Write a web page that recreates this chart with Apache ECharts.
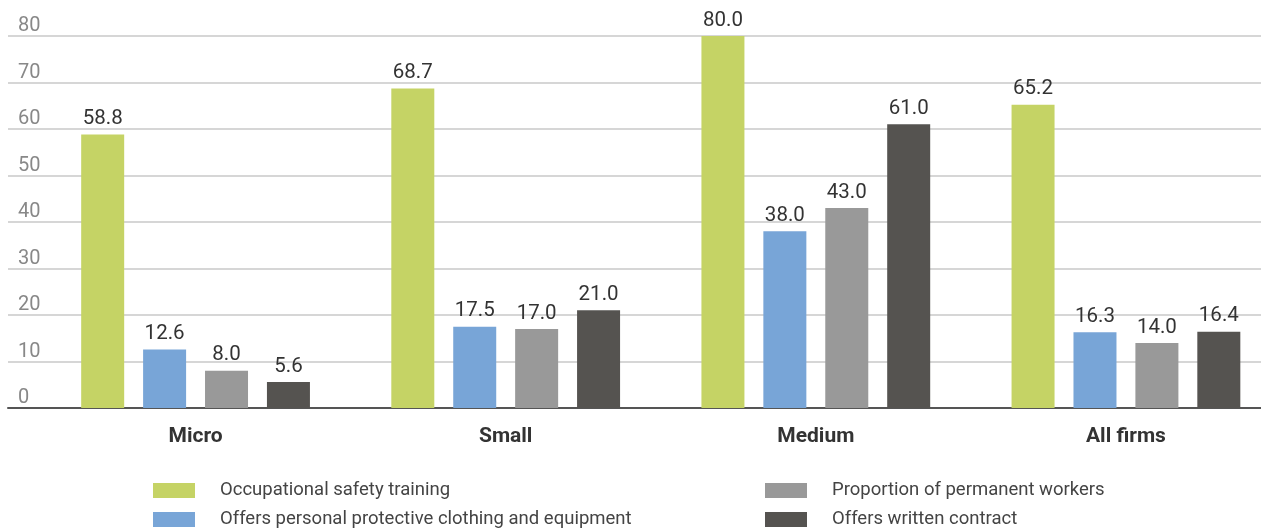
<!DOCTYPE html>
<html>
<head>
<meta charset="utf-8">
<script src="https://cdn.jsdelivr.net/npm/echarts@6/dist/echarts.min.js"></script>
<style>
  html, body { margin: 0; padding: 0; background: #fff; overflow: hidden; }
  /* a little wider than the window: the last group of bars runs past the right edge */
  #chart { width: 1281px; height: 528px; }
</style>
</head>
<body>
<div id="chart"></div>
<script>
const categories = ['Micro', 'Small', 'Medium', 'All firms'];
const seriesNames = [
  'Occupational safety training',
  'Offers personal protective clothing and equipment',
  'Proportion of permanent workers',
  'Offers written contract',
];
const safetyTraining = [58.8, 68.7, 80.0, 65.2];
const protectiveGear = [12.6, 17.5, 38.0, 16.3];
const permanentWorkers = [8.0, 17.0, 43.0, 14.0];
const writtenContract = [5.6, 21.0, 61.0, 16.4];
const colors = ['#c5d365', '#78a5d7', '#999999', '#555350'];

const chart = echarts.init(document.getElementById('chart'));

const values = [safetyTraining, protectiveGear, permanentWorkers, writtenContract];
const series = values.map((data, i) => ({
  name: seriesNames[i],
  type: 'bar',
  xAxisIndex: 1,
  yAxisIndex: 1,
  barWidth: 43,
  barGap: '44%',
  itemStyle: { color: colors[i] },
  label: {
    show: true,
    position: 'top',
    distance: 5,
    fontFamily: 'Roboto',
    fontSize: 20.5,
    color: '#333',
    formatter: (p) => p.value.toFixed(1),
  },
  data: data,
}));

// one legend per entry, two columns of two
const legendPos = [[153, 481], [153, 510], [765, 481], [765, 510]];
const legends = seriesNames.map((name, i) => ({
  data: [name],
  left: legendPos[i][0],
  top: legendPos[i][1],
  padding: 0,
  itemWidth: 42,
  itemHeight: 15,
  icon: 'rect',
  selectedMode: false,
  textStyle: {
    fontFamily: 'Roboto',
    fontSize: 18.5,
    color: '#444',
    padding: [0, 0, 0, 20],
  },
}));

chart.setOption({
  animation: false,
  textStyle: { fontFamily: 'Roboto' },
  grid: [
    // gridlines + y labels across the full window width
    { left: 8, right: 20, top: 36, bottom: 120 },
    // bars
    { left: 40.5, right: 0, top: 36, bottom: 120 },
  ],
  xAxis: [
    {
      gridIndex: 0,
      type: 'value',
      min: 0,
      max: 1,
      axisLabel: { show: false },
      axisTick: { show: false },
      splitLine: { show: false },
      axisLine: { show: true, lineStyle: { color: '#555', width: 2 } },
    },
    {
      gridIndex: 1,
      type: 'category',
      data: categories,
      axisLine: { show: false },
      axisTick: { show: false },
      axisLabel: {
        margin: 18,
        fontFamily: 'Roboto',
        fontSize: 21,
        fontWeight: 'bold',
        color: '#333',
      },
    },
  ],
  yAxis: [
    {
      gridIndex: 0,
      type: 'value',
      min: 0,
      max: 80,
      interval: 10,
      axisLine: { show: false },
      axisTick: { show: false },
      axisLabel: {
        inside: true,
        margin: 10,
        align: 'left',
        verticalAlign: 'bottom',
        fontFamily: 'Roboto',
        fontSize: 20,
        color: '#888',
      },
      splitLine: { lineStyle: { color: '#c8c8c8', width: 1.5 } },
    },
    {
      gridIndex: 1,
      type: 'value',
      min: 0,
      max: 80,
      interval: 10,
      show: false,
    },
  ],
  legend: legends,
  series: series,
});
</script>
</body>
</html>
